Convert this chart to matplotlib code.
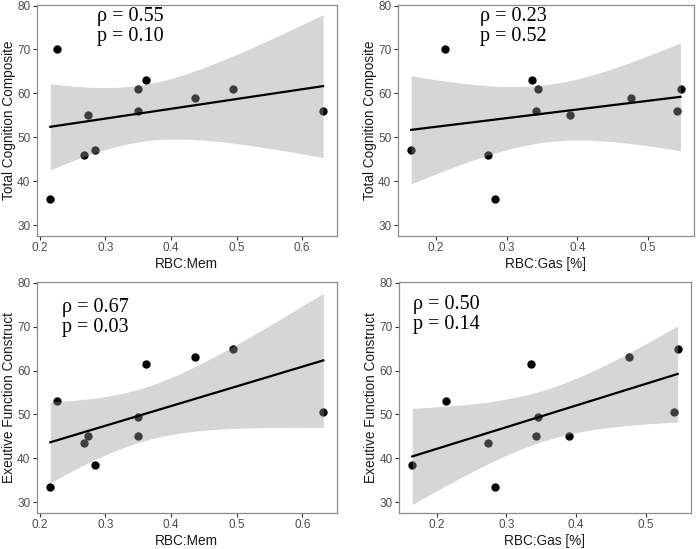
import numpy as np
import matplotlib
matplotlib.use("Agg")
import matplotlib.pyplot as plt

# Subject-level data (same 11 subjects in every panel)
rbc_mem = [0.216, 0.226, 0.267, 0.274, 0.284, 0.349, 0.349, 0.362, 0.437, 0.495, 0.632]
rbc_gas = [0.284, 0.2135, 0.2735, 0.3895, 0.165, 0.345, 0.342, 0.336, 0.476, 0.546, 0.541]
total_cog = [36, 70, 46, 55, 47, 61, 56, 63, 59, 61, 56]
exec_fn = [33.5, 53, 43.5, 45, 38.5, 49.5, 45, 61.5, 63, 65, 50.5]

x_labels = ["RBC:Mem", "RBC:Gas [%]", "RBC:Mem", "RBC:Gas [%]"]
y_labels = ["Total Cognition Composite", "Total Cognition Composite",
            "Exeutive Function Construct", "Exeutive Function Construct"]
rho_text = ["0.55", "0.23", "0.67", "0.50"]
p_text = ["0.10", "0.52", "0.03", "0.14"]
x_ticks = [[0.2, 0.3, 0.4, 0.5, 0.6], [0.2, 0.3, 0.4, 0.5],
           [0.2, 0.3, 0.4, 0.5, 0.6], [0.2, 0.3, 0.4, 0.5]]
y_ticks = [30, 40, 50, 60, 70, 80]

T95 = {9: 2.262}  # two-sided 95% t quantile by degrees of freedom

panels = [(rbc_mem, total_cog), (rbc_gas, total_cog), (rbc_mem, exec_fn), (rbc_gas, exec_fn)]
# axes rectangles (fig fraction)
rects = [
    [0.0524, 0.5701, 0.4286, 0.4213],
    [0.5681, 0.5701, 0.4233, 0.4213],
    [0.0524, 0.0656, 0.4290, 0.4208],
    [0.5700, 0.0656, 0.4171, 0.4208],
]
text_pos = [(0.201, 0.990), (0.278, 0.990), (0.083, 0.930), (0.049, 0.945)]

fig = plt.figure(figsize=(7.0, 5.49), dpi=100)
sans = ["Liberation Sans", "DejaVu Sans"]
serif = ["Liberation Serif", "DejaVu Serif"]

for i, ((xs, ys), rect) in enumerate(zip(panels, rects)):
    ax = fig.add_axes(rect)
    x = np.asarray(xs, float)
    y = np.asarray(ys, float)
    # points first (band is drawn over them, as in the original)
    ax.scatter(x, y, s=36, color="black", zorder=1, linewidths=0)
    # linear fit with 95% confidence band
    n = len(x)
    b1, b0 = np.polyfit(x, y, 1)
    resid = y - (b0 + b1 * x)
    s = np.sqrt(np.sum(resid ** 2) / (n - 2))
    xg = np.linspace(x.min(), x.max(), 100)
    yg = b0 + b1 * xg
    se = s * np.sqrt(1.0 / n + (xg - x.mean()) ** 2 / np.sum((x - x.mean()) ** 2))
    t = T95[n - 2]
    ax.fill_between(xg, yg - t * se, yg + t * se, color="#999999", alpha=0.4,
                    linewidth=0, zorder=2)
    ax.plot(xg, yg, color="black", linewidth=1.6, zorder=3)

    rng = x.max() - x.min()
    ax.set_xlim(x.min() - 0.05 * rng, x.max() + 0.05 * rng)
    ax.set_ylim(27.5, 80.2)
    ax.set_xticks(x_ticks[i])
    ax.set_xticklabels([f"{v:.1f}" for v in x_ticks[i]])
    ax.set_yticks(y_ticks)
    for sp in ax.spines.values():
        sp.set_color("#8c8c8c")
        sp.set_linewidth(0.9)
    ax.tick_params(axis="both", colors="#333333", labelcolor="#4d4d4d",
                   labelsize=8.5, length=3, width=0.8, pad=1.5)
    for lab in ax.get_xticklabels() + ax.get_yticklabels():
        lab.set_family(sans)
    ax.set_xlabel(x_labels[i], fontsize=9.8, family=sans, color="#1a1a1a", labelpad=2)
    ax.set_ylabel(y_labels[i], fontsize=9.8, family=sans, color="#1a1a1a", labelpad=1)
    tx, ty = text_pos[i]
    ax.text(tx, ty, f"\u03c1 = {rho_text[i]}\np = {p_text[i]}", transform=ax.transAxes,
            ha="left", va="top", fontsize=14.5, family=serif, linespacing=1.08,
            color="black", zorder=5)

fig.savefig("out.png", dpi=100)
